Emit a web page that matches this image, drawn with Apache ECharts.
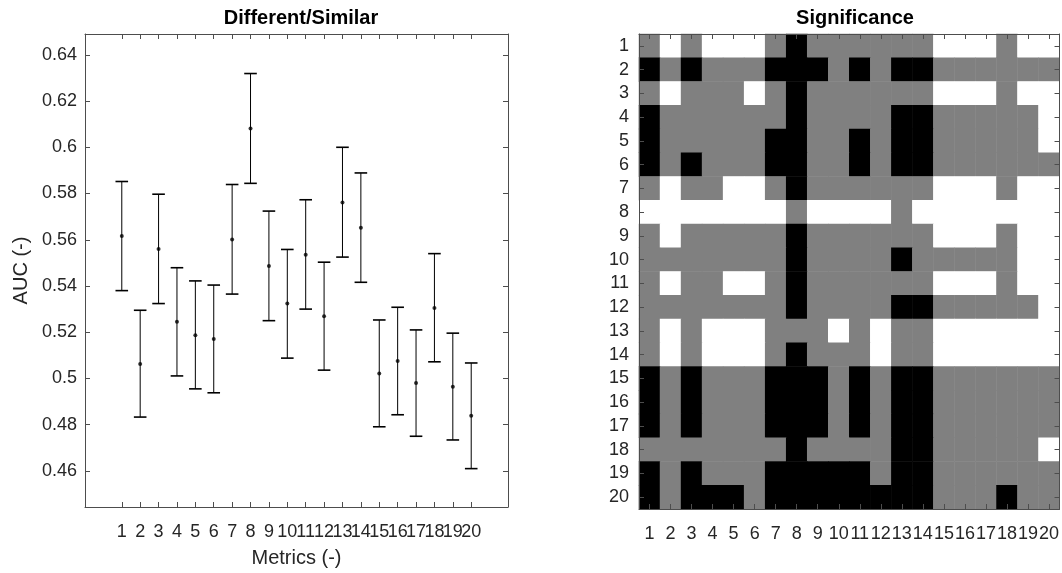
<!DOCTYPE html>
<html>
<head>
<meta charset="utf-8">
<script src="https://cdn.jsdelivr.net/npm/echarts@6/dist/echarts.min.js"></script>
<style>
  html, body { margin: 0; padding: 0; background: #fff; }
  #chart { width: 1062px; height: 573px; }
</style>
</head>
<body>
<div id="chart"></div>
<script>
// metrics 1..20, AUC with confidence bounds
const metrics = [1, 2, 3, 4, 5, 6, 7, 8, 9, 10, 11, 12, 13, 14, 15, 16, 17, 18, 19, 20];
const aucMean = [0.5616, 0.5063, 0.5560, 0.5245, 0.5187, 0.5171, 0.5601, 0.6081, 0.5486, 0.5324,
                 0.5535, 0.5269, 0.5761, 0.5652, 0.5021, 0.5076, 0.4980, 0.5305, 0.4964, 0.4839];
const aucLow  = [0.5380, 0.4833, 0.5324, 0.5011, 0.4955, 0.4938, 0.5365, 0.5844, 0.5250, 0.5088,
                 0.5300, 0.5036, 0.5525, 0.5416, 0.4791, 0.4843, 0.4750, 0.5072, 0.4734, 0.4610];
const aucHigh = [0.5852, 0.5295, 0.5797, 0.5479, 0.5422, 0.5404, 0.5839, 0.6319, 0.5724, 0.5558,
                 0.5773, 0.5503, 0.6000, 0.5889, 0.5253, 0.5308, 0.5210, 0.5540, 0.5196, 0.5067];
const aucTicks = [0.46, 0.48, 0.50, 0.52, 0.54, 0.56, 0.58, 0.60, 0.62, 0.64];

// significance matrix: 0 = white, 1 = gray, 2 = black (row 1 at top)
const sigLabels = ['1','2','3','4','5','6','7','8','9','10','11','12','13','14','15','16','17','18','19','20'];
const sigRows = [
  [1,0,1,0,0,0,1,2,1,1,1,1,1,1,0,0,0,1,0,0],
  [2,1,2,1,1,1,2,2,2,1,2,1,2,2,1,1,1,1,1,1],
  [1,0,1,1,1,0,1,2,1,1,1,1,1,1,0,0,0,1,0,0],
  [2,1,1,1,1,1,1,2,1,1,1,1,2,2,1,1,1,1,1,0],
  [2,1,1,1,1,1,2,2,1,1,2,1,2,2,1,1,1,1,1,0],
  [2,1,2,1,1,1,2,2,1,1,2,1,2,2,1,1,1,1,1,1],
  [1,0,1,1,0,0,1,2,1,1,1,1,1,1,0,0,0,1,0,0],
  [0,0,0,0,0,0,0,1,0,0,0,0,1,0,0,0,0,0,0,0],
  [1,0,1,1,1,1,1,2,1,1,1,1,1,1,0,0,0,1,0,0],
  [1,1,1,1,1,1,1,2,1,1,1,1,2,1,1,1,1,1,0,0],
  [1,0,1,1,0,0,1,2,1,1,1,1,1,1,0,0,0,1,0,0],
  [1,1,1,1,1,1,1,2,1,1,1,1,2,2,1,1,1,1,1,0],
  [1,0,1,0,0,0,1,1,1,0,1,0,1,1,0,0,0,0,0,0],
  [1,0,1,0,0,0,1,2,1,1,1,0,1,1,0,0,0,0,0,0],
  [2,1,2,1,1,1,2,2,2,1,2,1,2,2,1,1,1,1,1,1],
  [2,1,2,1,1,1,2,2,2,1,2,1,2,2,1,1,1,1,1,1],
  [2,1,2,1,1,1,2,2,2,1,2,1,2,2,1,1,1,1,1,1],
  [1,1,1,1,1,1,1,2,1,1,1,1,2,2,1,1,1,1,1,0],
  [2,1,2,1,1,1,2,2,2,2,2,1,2,2,1,1,1,1,1,1],
  [2,1,2,2,2,1,2,2,2,2,2,2,2,2,1,1,1,2,1,1]
];

const FONT = '"Liberation Sans", Arial, Helvetica, sans-serif';
const TXT = '#262626';
const LINE = '#4d4d4d';
const X_MIN = -1, X_MAX = 22;

const errData = metrics.map((m, i) => [m, aucLow[i], aucHigh[i]]);
const dotData = metrics.map((m, i) => [m, aucMean[i]]);
const heatData = [];
sigRows.forEach((row, r) => row.forEach((v, c) => heatData.push([c, r, v])));

// blank labels at the axis ends so the min/max overlap check leaves 1..20 alone
const xLabelValues = [X_MIN].concat(metrics, [X_MAX]);
const fmtMetric = v => (v < 1 || v > 20) ? '' : String(v);
const fmtAuc = v => String(+(+v).toFixed(2));

const valueAxisBase = (extra) => Object.assign({
  type: 'value',
  axisLine: { show: true, onZero: false, lineStyle: { color: LINE, width: 1 } },
  splitLine: { show: false },
  z: 5,
}, extra);

const catAxisBase = (extra) => Object.assign({
  type: 'category',
  data: sigLabels,
  axisLine: { show: true, onZero: false, lineStyle: { color: LINE, width: 1 } },
  splitLine: { show: false },
  z: 5,
}, extra);

const labelBase = { fontSize: 18, color: TXT, fontFamily: FONT, hideOverlap: false };

const chart = echarts.init(document.getElementById('chart'), null, { renderer: 'canvas' });
chart.setOption({
  backgroundColor: '#fff',
  animation: false,
  textStyle: { fontFamily: FONT },
  title: [
    { text: 'Different/Similar', left: 296, top: 3, textAlign: 'center',
      textStyle: { fontFamily: FONT, fontSize: 20, fontWeight: 'bold', color: '#000' } },
    { text: 'Significance', left: 850, top: 3, textAlign: 'center',
      textStyle: { fontFamily: FONT, fontSize: 20, fontWeight: 'bold', color: '#000' } },
  ],
  grid: [
    { left: 85, top: 34, width: 423, height: 475 },
    { left: 639, top: 34, width: 422, height: 475 },
  ],
  xAxis: [
    valueAxisBase({
      gridIndex: 0, position: 'bottom', min: X_MIN, max: X_MAX,
      name: 'Metrics (-)', nameLocation: 'middle', nameGap: 41,
      nameTextStyle: { fontFamily: FONT, fontSize: 20, color: TXT },
      axisTick: { show: true, inside: true, length: 5, customValues: metrics, lineStyle: { color: LINE } },
      axisLabel: Object.assign({ show: true, margin: 16, customValues: xLabelValues, formatter: fmtMetric }, labelBase),
    }),
    valueAxisBase({
      gridIndex: 0, position: 'top', min: X_MIN, max: X_MAX,
      axisTick: { show: true, inside: true, length: 5, customValues: metrics, lineStyle: { color: LINE } },
      axisLabel: { show: false },
    }),
    catAxisBase({
      gridIndex: 1, position: 'bottom',
      axisTick: { show: true, inside: true, length: 5, alignWithLabel: true, lineStyle: { color: LINE } },
      axisLabel: Object.assign({ show: true, interval: 0, margin: 16 }, labelBase),
    }),
    catAxisBase({
      gridIndex: 1, position: 'top',
      axisTick: { show: true, inside: true, length: 5, alignWithLabel: true, lineStyle: { color: LINE } },
      axisLabel: { show: false },
    }),
  ],
  yAxis: [
    valueAxisBase({
      gridIndex: 0, position: 'left', min: 0.4444, max: 0.649,
      name: 'AUC (-)', nameLocation: 'middle', nameGap: 54, nameRotate: 90,
      nameTextStyle: { fontFamily: FONT, fontSize: 20, color: TXT },
      axisTick: { show: true, inside: true, length: 5, customValues: aucTicks, lineStyle: { color: LINE } },
      axisLabel: Object.assign({ show: true, margin: 8, customValues: aucTicks, formatter: fmtAuc }, labelBase),
    }),
    valueAxisBase({
      gridIndex: 0, position: 'right', min: 0.4444, max: 0.649,
      axisTick: { show: true, inside: true, length: 5, customValues: aucTicks, lineStyle: { color: LINE } },
      axisLabel: { show: false },
    }),
    catAxisBase({
      gridIndex: 1, position: 'left', inverse: true,
      axisTick: { show: true, inside: true, length: 5, alignWithLabel: true, lineStyle: { color: LINE } },
      axisLabel: Object.assign({ show: true, interval: 0, margin: 10 }, labelBase),
    }),
    catAxisBase({
      gridIndex: 1, position: 'right', inverse: true,
      axisTick: { show: true, inside: true, length: 5, alignWithLabel: true, lineStyle: { color: LINE } },
      axisLabel: { show: false },
    }),
  ],
  visualMap: {
    type: 'piecewise', show: false, seriesIndex: 2, dimension: 2,
    pieces: [
      { value: 0, color: '#ffffff' },
      { value: 1, color: '#808080' },
      { value: 2, color: '#000000' },
    ],
  },
  series: [
    {
      type: 'custom', xAxisIndex: 0, yAxisIndex: 0, data: errData,
      renderItem: (params, api) => {
        const x = api.value(0);
        const lo = api.coord([x, api.value(1)]);
        const hi = api.coord([x, api.value(2)]);
        const half = 6.3;
        const st = { stroke: '#000', lineWidth: 1 };
        const cap = { stroke: '#000', lineWidth: 1.6 };
        return {
          type: 'group',
          children: [
            { type: 'line', shape: { x1: hi[0], y1: hi[1], x2: lo[0], y2: lo[1] }, style: st },
            { type: 'line', shape: { x1: hi[0] - half, y1: hi[1], x2: hi[0] + half, y2: hi[1] }, style: cap },
            { type: 'line', shape: { x1: lo[0] - half, y1: lo[1], x2: lo[0] + half, y2: lo[1] }, style: cap },
          ],
        };
      },
    },
    {
      type: 'scatter', xAxisIndex: 0, yAxisIndex: 0, data: dotData,
      symbol: 'circle', symbolSize: 4, itemStyle: { color: '#000' }, z: 3,
    },
    {
      type: 'heatmap', xAxisIndex: 2, yAxisIndex: 2, data: heatData,
      itemStyle: { borderWidth: 0 },
      emphasis: { disabled: true },
    },
  ],
});
</script>
</body>
</html>
